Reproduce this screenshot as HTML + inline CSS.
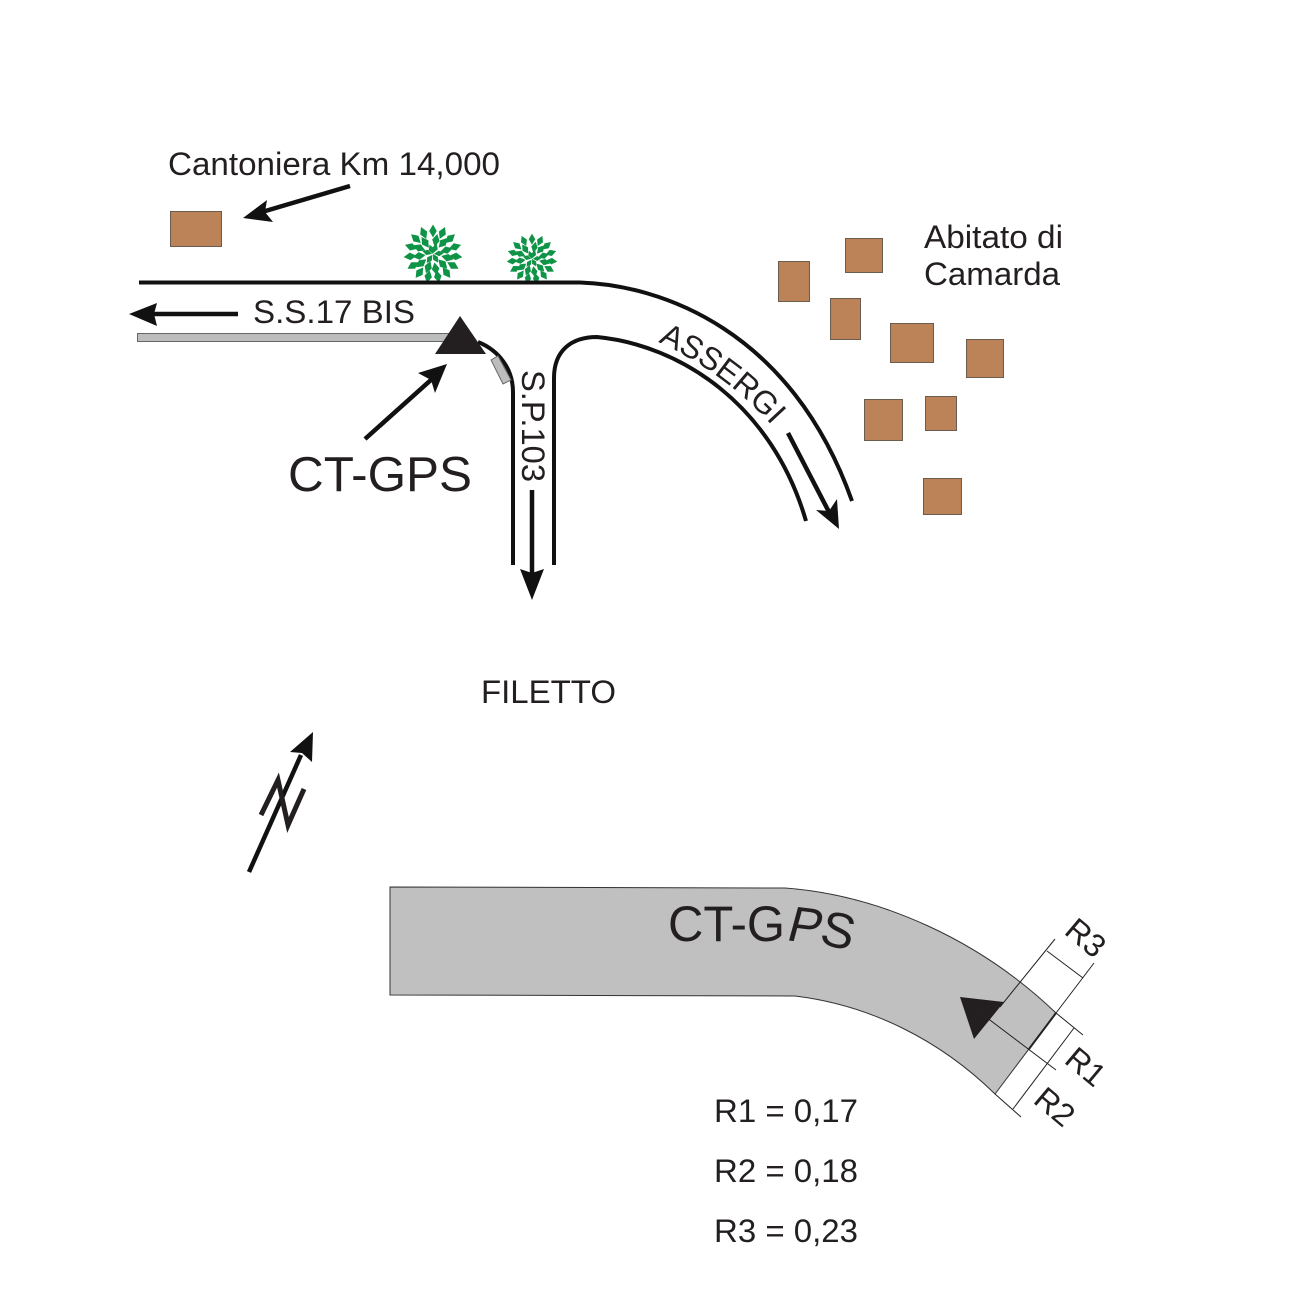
<!DOCTYPE html>
<html><head><meta charset="utf-8"><style>html,body{margin:0;padding:0;background:#fff}svg{display:block}text{font-family:"Liberation Sans",sans-serif;fill:#231f20}</style></head>
<body>
<svg width="1299" height="1299" viewBox="0 0 1299 1299" xmlns="http://www.w3.org/2000/svg">
<defs>
<path id="l" d="M0,-6.500 L3.800,0 L0,6.500 L-3.800,0Z" fill="#0f9447"/>
<path id="m" d="M0,-5 L2.800,0 L0,5 L-2.800,0Z" fill="#0f9447"/>
<g id="tree">
<use href="#l" transform="rotate(0) translate(0,-23)"/><use href="#l" transform="rotate(24) translate(0,-23)"/><use href="#l" transform="rotate(48) translate(0,-23)"/><use href="#l" transform="rotate(72) translate(0,-23)"/><use href="#l" transform="rotate(96) translate(0,-23)"/><use href="#l" transform="rotate(120) translate(0,-23)"/><use href="#l" transform="rotate(144) translate(0,-23)"/><use href="#l" transform="rotate(168) translate(0,-23)"/><use href="#l" transform="rotate(192) translate(0,-23)"/><use href="#l" transform="rotate(216) translate(0,-23)"/><use href="#l" transform="rotate(240) translate(0,-23)"/><use href="#l" transform="rotate(264) translate(0,-23)"/><use href="#l" transform="rotate(288) translate(0,-23)"/><use href="#l" transform="rotate(312) translate(0,-23)"/><use href="#l" transform="rotate(336) translate(0,-23)"/>
<use href="#l" transform="rotate(12) translate(0,-14)"/><use href="#l" transform="rotate(42) translate(0,-15)"/><use href="#l" transform="rotate(74) translate(0,-14)"/><use href="#l" transform="rotate(104) translate(0,-15)"/><use href="#l" transform="rotate(136) translate(0,-14)"/><use href="#l" transform="rotate(170) translate(0,-15)"/><use href="#l" transform="rotate(200) translate(0,-14)"/><use href="#l" transform="rotate(232) translate(0,-15)"/><use href="#l" transform="rotate(262) translate(0,-14)"/><use href="#l" transform="rotate(294) translate(0,-15)"/><use href="#l" transform="rotate(326) translate(0,-14)"/>
<use href="#m" transform="rotate(20) translate(0,-6)"/><use href="#m" transform="rotate(85) translate(0,-6)"/><use href="#m" transform="rotate(150) translate(0,-5)"/><use href="#m" transform="rotate(215) translate(0,-6)"/><use href="#m" transform="rotate(285) translate(0,-6)"/><use href="#m" transform="rotate(340) translate(0,-5)"/>
</g>
</defs>

<!-- houses -->
<g fill="#bc8258" stroke="#6b5c50" stroke-width="1">
<rect x="170.500" y="211.500" width="51" height="35"/>
<rect x="778.500" y="261.500" width="31" height="40"/>
<rect x="845.500" y="238.500" width="37" height="34"/>
<rect x="830.500" y="298.500" width="30" height="41"/>
<rect x="890.500" y="323.500" width="43" height="39"/>
<rect x="966.500" y="339.500" width="37" height="38"/>
<rect x="864.500" y="399.500" width="38" height="41"/>
<rect x="925.500" y="396.500" width="31" height="34"/>
<rect x="923.500" y="478.500" width="38" height="36"/>
</g>

<!-- trees -->
<use href="#tree" transform="translate(433,254)"/>
<use href="#tree" transform="translate(532,259) scale(.86)"/>

<!-- roads -->
<g fill="none" stroke="#111" stroke-width="4">
<path d="M139,282.500 L580,282.500 C660,285 791,329 852,501"/>
<path d="M554,565 L554,378 C554,350 572,337 597,337 C680,345 772,404 806,521"/>
<path d="M513,565 L513,392 C513,368 498,350 478,342"/>
</g>

<!-- gray bar & small piece -->
<rect x="137.500" y="333.500" width="315" height="8" fill="#bdbdbd" stroke="#666" stroke-width="1"/>
<polygon points="491,360 498,356 511,380 503,384" fill="#bdbdbd" stroke="#666" stroke-width="1"/>
<polygon points="460,316 435,354 486,354" fill="#231f20"/>

<!-- arrows -->
<g stroke="#111" stroke-width="4.500" fill="none">
<line x1="238" y1="314" x2="150" y2="314"/>
<line x1="365" y1="439" x2="432" y2="379"/>
<line x1="350" y1="186" x2="262" y2="212"/>
<line x1="532" y1="490" x2="532" y2="578"/>
<line x1="788" y1="433" x2="829" y2="512"/>
<line x1="249" y1="872" x2="301" y2="755"/>
</g>
<g fill="#111">
<polygon points="129,314 157,303 154,314 157,326"/>
<polygon points="447,364 418,373 431,380 435,393"/>
<polygon points="243,218 267,200 265,212 273,222"/>
<polygon points="532,600 520,569 532,573 544,569"/>
<polygon points="839,529 816,510 829,511 837,499"/>
<polygon points="313,732 290,752 302,753 312,762"/>
</g>
<polyline points="261,815 278,780 288,825 304,789" fill="none" stroke="#231f20" stroke-width="5"/>

<!-- labels top -->
<text x="168" y="175" font-size="32" textLength="332" lengthAdjust="spacingAndGlyphs">Cantoniera Km 14,000</text>
<text x="253" y="323" font-size="32" textLength="162" lengthAdjust="spacingAndGlyphs">S.S.17 BIS</text>
<text x="288" y="491" font-size="49" textLength="184" lengthAdjust="spacingAndGlyphs">CT-GPS</text>
<text x="924" y="248" font-size="32" textLength="139" lengthAdjust="spacingAndGlyphs">Abitato di</text>
<text x="924" y="285" font-size="32" textLength="136" lengthAdjust="spacingAndGlyphs">Camarda</text>
<text x="481" y="703" font-size="32" textLength="135" lengthAdjust="spacingAndGlyphs">FILETTO</text>
<text transform="translate(522,370) rotate(90)" font-size="32" textLength="112" lengthAdjust="spacingAndGlyphs">S.P.103</text>
<path id="ap" d="M658,342 Q725,372 776,430" fill="none"/>
<text font-size="32"><textPath href="#ap">ASSERGI</textPath></text>

<!-- bottom road -->
<path d="M390,887 L785,888 C880,895 980,940 1056,1013 L995,1094 C940,1040 870,1005 795,996 L390,995Z" fill="#c0c0c0" stroke="#333" stroke-width="1"/>
<polygon points="960,997 1004,1002 974,1039" fill="#231f20"/>
<g stroke="#222" stroke-width="1" fill="none">
<line x1="1055" y1="939" x2="1000" y2="1007"/>
<line x1="1094" y1="963" x2="1056" y2="1013"/>
<line x1="1047" y1="951" x2="1083" y2="978"/>
<line x1="974" y1="1008" x2="1056" y2="1070"/>
<line x1="1056" y1="1013" x2="1083" y2="1035"/>
<line x1="1074" y1="1028" x2="1013" y2="1109"/>
<line x1="995" y1="1094" x2="1021" y2="1117"/>
<line x1="1056" y1="1013" x2="1029" y2="1049" stroke-width="2"/>
</g>
<text x="668" y="941" font-size="50" textLength="117" lengthAdjust="spacingAndGlyphs">CT-G</text>
<text transform="translate(785,940) rotate(7) skewX(-8)" font-size="50">P</text>
<text transform="translate(818,943) rotate(14)" font-size="50">S</text>
<text transform="translate(1063,933) rotate(40)" font-size="32">R3</text>
<text transform="translate(1063,1062) rotate(40)" font-size="32">R1</text>
<text transform="translate(1032,1102) rotate(40)" font-size="32">R2</text>
<text x="714" y="1122" font-size="32" textLength="144" lengthAdjust="spacingAndGlyphs">R1 = 0,17</text>
<text x="714" y="1182" font-size="32" textLength="144" lengthAdjust="spacingAndGlyphs">R2 = 0,18</text>
<text x="714" y="1242" font-size="32" textLength="144" lengthAdjust="spacingAndGlyphs">R3 = 0,23</text>
</svg>
</body></html>
